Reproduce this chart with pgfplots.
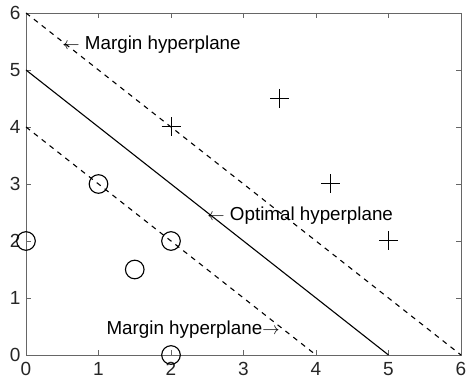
\documentclass[border=0pt]{standalone}
\usepackage{pgfplots}
\pgfplotsset{compat=1.18}
\usepackage{fontspec}
\setmainfont{Liberation Sans}
\definecolor{axgray}{gray}{0.4}
\begin{document}
\begin{tikzpicture}
\begin{axis}[name=ax,
  scale only axis, width=435pt, height=342pt,
  xmin=0, xmax=6, ymin=0, ymax=6,
  xtick={0,...,6}, ytick={0,...,6},
  tick align=inside, major tick length=5pt,
  axis line style={axgray, line width=0.8pt},
  tick style={axgray, line width=0.6pt},
  every tick label/.style={font=\fontsize{19}{22}\selectfont, text=black!85},
  /pgf/number format/assume math mode=true,
  xticklabel style={yshift=-4pt},
  yticklabel style={xshift=-2pt},
  clip=false,
]
\addplot[black, line width=1.1pt] coordinates {(0,5) (5,0)};
\addplot[black, line width=1.1pt, dash pattern=on 5pt off 5pt] coordinates {(0,6) (6,0)};
\addplot[black, line width=1.1pt, dash pattern=on 5pt off 5pt] coordinates {(0,4) (4,0)};
\addplot[only marks, mark=+, mark size=9.5pt, mark options={line width=1pt, black}] coordinates {(2,4) (3.5,4.5) (4.2,3) (5,2)};
\addplot[only marks, mark=o, mark size=9.3pt, mark options={line width=1.1pt, black}] coordinates {(0,2) (1,3) (2,2) (1.5,1.5) (2,0)};
\node[anchor=west, inner sep=0pt, yshift=-3pt, font=\fontsize{18.8}{22}\selectfont] at (axis cs:0.5,5.5) {$\leftarrow$ Margin hyperplane};
\node[anchor=west, inner sep=0pt, yshift=-3pt, font=\fontsize{18.8}{22}\selectfont] at (axis cs:2.5,2.5) {$\leftarrow$ Optimal hyperplane};
\node[anchor=east, inner sep=0pt, yshift=-3pt, font=\fontsize{18.8}{22}\selectfont] at (axis cs:3.5,0.5) {Margin hyperplane$\rightarrow$};
\end{axis}
\pgfresetboundingbox
\path ([shift={(-26pt,-29pt)}]ax.south west) rectangle ([shift={(6pt,13pt)}]ax.north east);
\end{tikzpicture}
\end{document}
